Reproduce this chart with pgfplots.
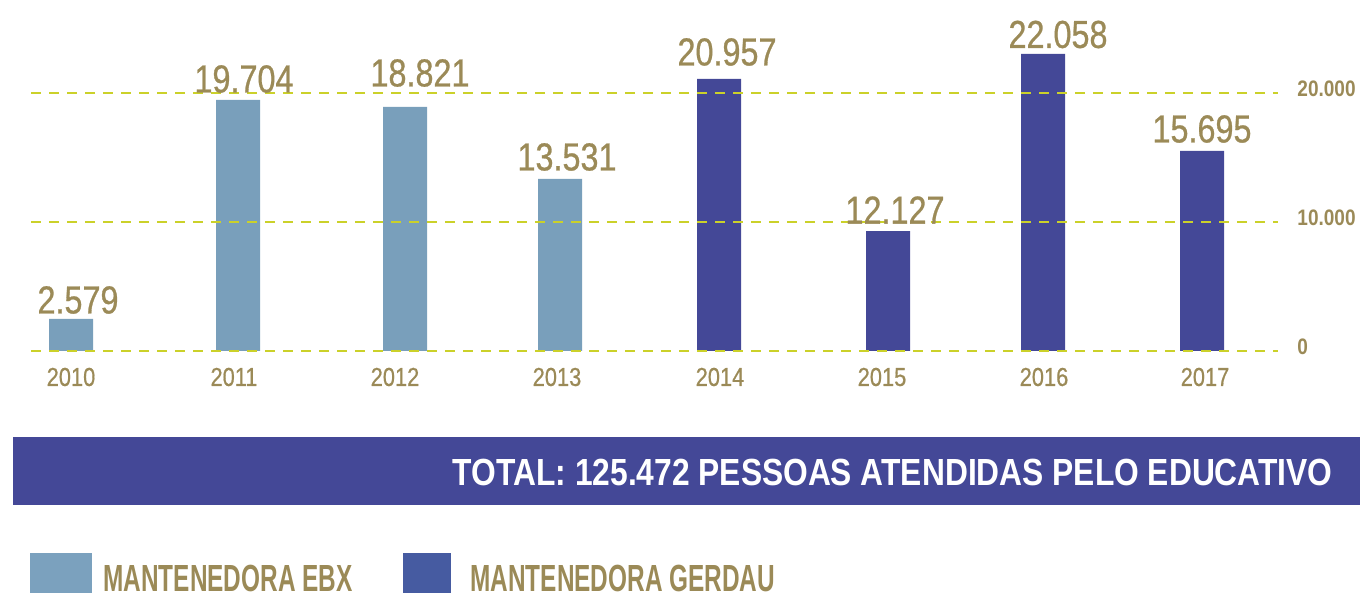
\documentclass[border=0pt]{standalone}
\usepackage{pgfplots}
\pgfplotsset{compat=1.18}
\usepackage{fontspec}
\setmainfont{Liberation Sans}
\newfontfamily\fnum{Liberation Sans}[FakeStretch=0.83, FakeBold=0.7]
\newfontfamily\fyear{Liberation Sans}[FakeStretch=0.84, FakeBold=0.6]
\newfontfamily\ftick{Liberation Sans}[FakeStretch=0.85]
\newfontfamily\fban{Liberation Sans}[FakeStretch=0.84]
\newfontfamily\fleg{Liberation Sans}[FakeStretch=0.645]
\definecolor{ebx}{HTML}{799FBB}
\definecolor{gerdau}{HTML}{444897}
\definecolor{gold}{HTML}{9B8A57}
\definecolor{gridc}{HTML}{CBD12A}
\definecolor{legebx}{HTML}{7BA1BE}
\definecolor{legdark}{HTML}{465BA1}

\begin{document}
\begin{tikzpicture}
\path[use as bounding box] (0,0) rectangle (683pt,-296.5pt);
\begin{axis}[
    at={(0,0)}, anchor=north west,
    scale only axis, width=683pt, height=296.5pt,
    xmin=0, xmax=1366, ymin=-18760, ymax=27209,
    clip=false,
    axis line style={draw=none},
    major tick length=0pt,
    xtick={71,234,395,557,720,882,1044,1205},
    xticklabels={2010,2011,2012,2013,2014,2015,2016,2017},
    xticklabel style={anchor=center, yshift=108pt, text=gold,
        font=\fyear\fontsize{13}{13}\selectfont},
    ytick={0,10000,20000},
    yticklabels={0,10.000,20.000},
    yticklabel pos=right,
    yticklabel style={anchor=west, inner sep=0pt, xshift=-34.5pt, yshift=2pt,
        text=gold, font=\ftick\bfseries\fontsize{11.2}{11.2}\selectfont},
]
% Mantenedora EBX
\addplot[ybar, bar width=22pt, bar shift=0pt, fill=ebx, draw=none]
    coordinates {(71,2481) (238,19457) (405,18915) (560,13333)};
% Mantenedora Gerdau
\addplot[ybar, bar width=22pt, bar shift=0pt, fill=gerdau, draw=none]
    coordinates {(719,21085) (888,9302) (1043,23023) (1202,15504)};
% value labels
\addplot[draw=none, mark=none, nodes near coords, point meta=explicit symbolic,
    every node near coord/.append style={anchor=center, inner sep=0pt, text=gold,
        font=\fnum\fontsize{19.5}{19.5}\selectfont}]
    coordinates {(78,3953)[2.579] (244,21085)[19.704] (420,21550)[18.821]
        (567,15039)[13.531] (727,23178)[20.957] (895,10930)[12.127]
        (1058,24535)[22.058] (1202,17209)[15.695]};
% dashed guide lines over the bars
\foreach \v in {0,10000,20000}{
    \edef\tmp{\noexpand\draw[gridc, line width=1.3pt, dash pattern=on 5pt off 4pt]
        (axis cs:31,\v) -- (axis cs:1278,\v);}
    \tmp
}
\end{axis}
\begin{scope}[x=0.5pt, y=-0.5pt]
\fill[gerdau] (13,437) rectangle (1360,505);
\node[anchor=east, inner sep=0pt, text=white,
    font=\fban\bfseries\fontsize{18.9}{18.9}\selectfont]
    at (1333,472) {TOTAL: 125.472 PESSOAS ATENDIDAS PELO EDUCATIVO};
\fill[legebx] (30,553) rectangle (92,600);
\fill[legdark] (403,553) rectangle (451,600);
\node[anchor=west, inner sep=0pt, text=gold,
    font=\fleg\bfseries\fontsize{18.9}{18.9}\selectfont]
    at (103,578) {MANTENEDORA EBX};
\node[anchor=west, inner sep=0pt, text=gold,
    font=\fleg\bfseries\fontsize{18.9}{18.9}\selectfont]
    at (470,578) {MANTENEDORA GERDAU};
\end{scope}
\end{tikzpicture}
\end{document}
